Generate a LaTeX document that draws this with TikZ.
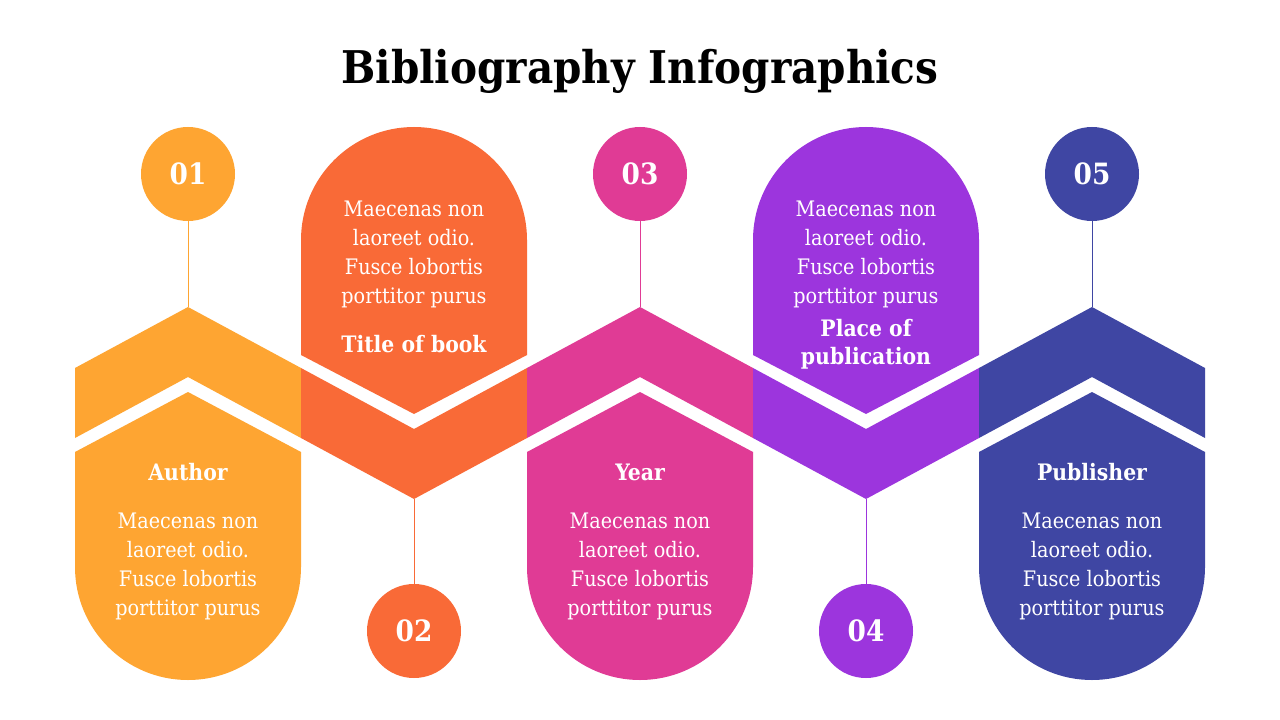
\documentclass[tikz,border=0pt]{standalone}
\usepackage{fontspec}
\setmainfont{DejaVu Serif Condensed}
\definecolor{cA}{HTML}{FEA532}
\definecolor{cB}{HTML}{F96A37}
\definecolor{cC}{HTML}{E03B95}
\definecolor{cD}{HTML}{9C35DD}
\definecolor{cE}{HTML}{3F46A3}
\tikzset{
  body/.style={text=white, align=center, font=\fontsize{16}{21.75}\selectfont},
  lab/.style={text=white, align=center, font=\bfseries\fontsize{17}{21}\selectfont},
  num/.style={circle, minimum size=70.5pt, inner sep=0pt, text=white, font=\bfseries\fontsize{22}{24}\selectfont},
  conn/.style={line width=0.75pt}
}
\begin{document}
\begin{tikzpicture}[x=0.75pt,y=-0.75pt]
\useasboundingbox (0,0) rectangle (1280,720);
\fill[white] (0,0) rectangle (1280,720);
\node[font=\bfseries\fontsize{33.8}{40}\selectfont] (title) at (640,71.5) {Bibliography Infographics};
% band
\fill[cA] (75,368) -- (188,307) -- (301,368) -- (301,438) -- (188,377) -- (75,438) -- cycle;
\fill[cB] (301,368) -- (414,429) -- (527,368) -- (527,438) -- (414,499) -- (301,438) -- cycle;
\fill[cC] (527,368) -- (640,307) -- (753,368) -- (753,438) -- (640,377) -- (527,438) -- cycle;
\fill[cD] (753,368) -- (866,429) -- (979,368) -- (979,438) -- (866,499) -- (753,438) -- cycle;
\fill[cE] (979,368) -- (1092,307) -- (1205,368) -- (1205,438) -- (1092,377) -- (979,438) -- cycle;
% bottom boxes
\fill[cA] (75,452) -- (188,392) -- (301,452) -- (301,567) arc[start angle=0,end angle=180,radius=113] -- cycle;
\fill[cC] (527,452) -- (640,392) -- (753,452) -- (753,567) arc[start angle=0,end angle=180,radius=113] -- cycle;
\fill[cE] (979,452) -- (1092,392) -- (1205,452) -- (1205,567) arc[start angle=0,end angle=180,radius=113] -- cycle;
% top boxes
\fill[cB] (301,355) -- (301,240) arc[start angle=180,end angle=360,radius=113] -- (527,355) -- (414,414) -- cycle;
\fill[cD] (753,355) -- (753,240) arc[start angle=180,end angle=360,radius=113] -- (979,355) -- (866,414) -- cycle;
% anchor points on band
\coordinate (p1) at (188,307);
\coordinate (p2) at (414,499);
\coordinate (p3) at (640,307);
\coordinate (p4) at (866,499);
\coordinate (p5) at (1092,307);
% number circles
\node[num, fill=cA] (n1) at (188,174) {01};
\node[num, fill=cB] (n2) at (414,631) {02};
\node[num, fill=cC] (n3) at (640,174) {03};
\node[num, fill=cD] (n4) at (866,631) {04};
\node[num, fill=cE] (n5) at (1092,174) {05};
\draw[conn, cA] (n1) -- (p1);
\draw[conn, cB] (n2) -- (p2);
\draw[conn, cC] (n3) -- (p3);
\draw[conn, cD] (n4) -- (p4);
\draw[conn, cE] (n5) -- (p5);
% texts
\node[lab] (l1) at (188,472) {Author};
\node[body] (b1) at (188,566) {Maecenas non\\laoreet odio.\\Fusce lobortis\\porttitor purus};
\node[body] (b2) at (414,254.5) {Maecenas non\\laoreet odio.\\Fusce lobortis\\porttitor purus};
\node[lab] (l2) at (414,344) {Title of book};
\node[lab] (l3) at (640,472) {Year};
\node[body] (b3) at (640,566) {Maecenas non\\laoreet odio.\\Fusce lobortis\\porttitor purus};
\node[body] (b4) at (866,254.5) {Maecenas non\\laoreet odio.\\Fusce lobortis\\porttitor purus};
\node[lab] (l4) at (866,344) {Place of\\publication};
\node[lab] (l5) at (1092,472) {Publisher};
\node[body] (b5) at (1092,566) {Maecenas non\\laoreet odio.\\Fusce lobortis\\porttitor purus};
\end{tikzpicture}
\end{document}
